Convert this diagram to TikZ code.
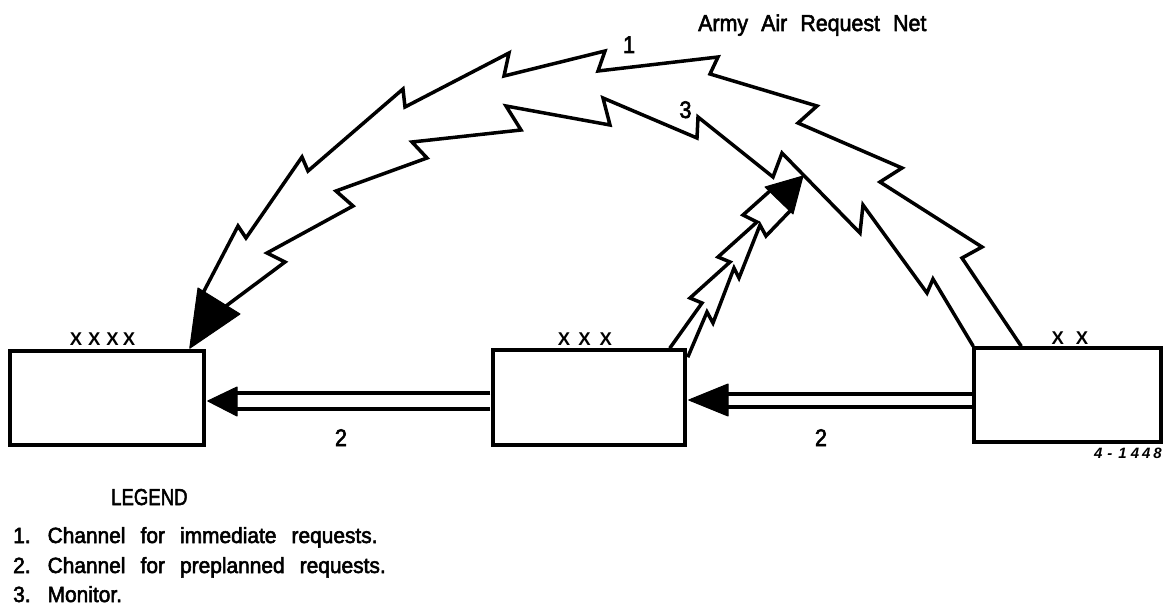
\documentclass[tikz,border=0pt]{standalone}
\usepackage{fontspec}
\setmainfont{Liberation Sans}
\newfontfamily\legfont{Liberation Sans}[WordSpace=2.6,FakeBold=2.5,FakeStretch=0.95]
\newfontfamily\ttlfont{Liberation Sans}[WordSpace=2.2,FakeBold=2.5,FakeStretch=0.93]
\newfontfamily\numfont{Liberation Sans}[FakeBold=2.5,FakeStretch=0.9]
\newfontfamily\xfont{Liberation Sans Bold}
\usetikzlibrary{calc}
\tikzset{
  box/.style={draw, line width=3.5pt, inner sep=0pt, fill=white},
  bolt/.style={line width=3.5pt, line join=miter, miter limit=20},
  chan/.style={line width=3.5pt},
  head/.style={fill=black, draw=black, line width=1pt, line join=round},
  txt/.style={inner sep=0pt, anchor=base west, font=\legfont\fontsize{22}{24}\selectfont},
  num/.style={inner sep=0pt, anchor=base, font=\numfont\fontsize{24}{26}\selectfont},
  xlab/.style={inner sep=0pt, anchor=base, font=\xfont\fontsize{18.5}{20}\selectfont}
}
\begin{document}
\begin{tikzpicture}[x=1pt,y=-1pt]
\useasboundingbox (0,0) rectangle (1163,610);

% boxes
\node[box, minimum width=194pt, minimum height=94pt] (A) at (107,398) {};
\node[box, minimum width=192pt, minimum height=95pt] (B) at (589,397.5) {};
\node[box, minimum width=187pt, minimum height=94pt] (C) at (1067.5,395) {};

% box labels
\node[xlab] (xa) at (102.5,345.5) {X\hspace{6pt}X\hspace{6pt}X\hspace{4pt}X};
\node[xlab] (xb) at (585,345.5) {X\hspace{8pt}X\hspace{9pt}X};
\node[xlab] (xc) at (1070,344) {X\hspace{12pt}X};

% channel 2: C -> B
\coordinate (cb1) at ($(C.west)+(1,-1)$);
\coordinate (cb2) at ($(C.west)+(1,12)$);
\coordinate (cbtip) at ($(B.east)+(2,2.5)$);
\draw[chan] (cb1) -- (728,394);
\draw[chan] (cb2) -- (728,407);
\fill[head] (cbtip) -- (728,384) -- (728,416) -- cycle;

% channel 2: B -> A
\coordinate (ba1) at ($(B.west)+(-1,-4.5)$);
\coordinate (ba2) at ($(B.west)+(-1,11.5)$);
\coordinate (batip) at ($(A.east)+(2,3)$);
\draw[chan] (ba1) -- (237,393);
\draw[chan] (ba2) -- (237,409);
\fill[head] (batip) -- (237,387) -- (237,416) -- cycle;

% channel 1 / 3 band from C to A
\coordinate (co) at ($(C.north west)+(49,0)$);
\coordinate (ci) at ($(C.north west)+(1,0)$);
\coordinate (atip) at ($(A.north east)+(-16,-1)$);
\draw[bolt] (co) -- (962,258) -- (982,247) -- (880,182) -- (902,168)
  -- (798,123) -- (817,106) -- (710,74) -- (718,57) -- (598,71)
  -- (605,51) -- (504,76) -- (509,53) -- (405,107) -- (403,89)
  -- (308,171) -- (302,157) -- (246,238) -- (238,226) -- (203,293);
\draw[bolt] (ci) -- (933,279) -- (927,293) -- (863,205) -- (860,233)
  -- (782,153) -- (773,177) -- (698,117) -- (697,138) -- (603,98)
  -- (610,125) -- (506,106) -- (521,130) -- (412,142) -- (427,158)
  -- (336,191) -- (353,206) -- (267,253) -- (285,262) -- (226,306);
\fill[head] (atip) -- (198,288) -- (240,314) -- cycle;

% channel 3 (monitor) from B
\coordinate (bl) at ($(B.north east)+(-17,0)$);
\coordinate (br) at ($(B.north east)+(1,9)$);
\coordinate (mtip) at (803,176);
\draw[bolt] (bl) -- (702,303) -- (690,298) -- (730,262) -- (718,257)
  -- (757,222) -- (743,215) -- (771,190);
\draw[bolt] (br) -- (707,312) -- (713,323) -- (734,268) -- (739,278)
  -- (760,225) -- (766,236) -- (790,211);
\fill[head] (mtip) -- (765,187) -- (793,214) -- cycle;

% texts
\node[txt, font=\ttlfont\fontsize{23}{25}\selectfont] (title) at (698,31) {Army Air Request Net};
\node[num] (n1) at (629,53) {1};
\node[num] (n3) at (685.5,118) {3};
\node[num] (n2a) at (341,446) {2};
\node[num] (n2b) at (821,446) {2};
\node[inner sep=0pt, anchor=base east, font=\xfont\itshape\fontsize{15}{16}\selectfont] (code) at (1162,458)
  {4\hspace{5pt}-\hspace{6pt}1\hspace{4pt}4\hspace{3pt}4\hspace{3pt}8};

\node[txt, font=\legfont\fontsize{23}{25}\selectfont] (leg) at (111,505) {\scalebox{0.85}[1]{LEGEND}};
\node[txt] (l1) at (13,543) {1. Channel for immediate requests.};
\node[txt] (l2) at (13,573) {2. Channel for preplanned requests.};
\node[txt] (l3) at (13,602) {3. Monitor.};
\end{tikzpicture}
\end{document}
